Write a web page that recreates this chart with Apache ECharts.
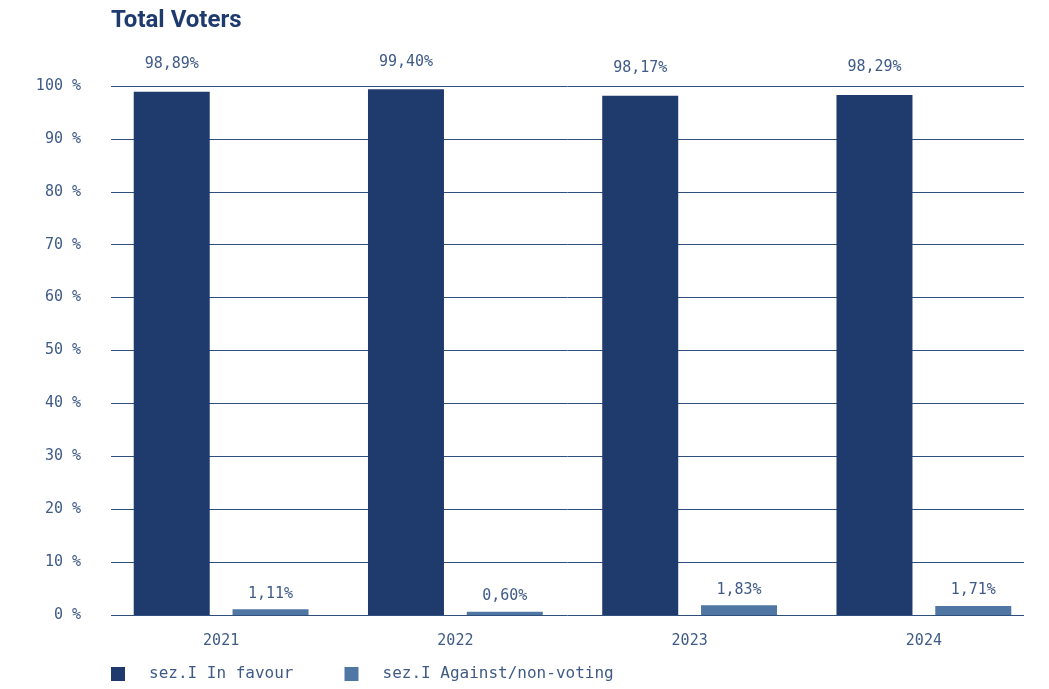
<!DOCTYPE html>
<html>
<head>
<meta charset="utf-8">
<script src="https://cdn.jsdelivr.net/npm/echarts@6/dist/echarts.min.js"></script>
<style>
  html, body { margin: 0; padding: 0; background: #ffffff; }
  #chart { width: 1049px; height: 689px; }
</style>
</head>
<body>
<div id="chart"></div>
<script>
// Vote share per year, in percent
const years = ['2021', '2022', '2023', '2024'];
const inFavour = [98.89, 99.40, 98.17, 98.29];
const againstNonVoting = [1.11, 0.60, 1.83, 1.71];
const seriesNames = ['sez.I In favour', 'sez.I Against/non-voting'];

const MONO = '"DejaVu Sans Mono", "Liberation Mono", monospace';
const DARK = '#1f3b6e';
const LIGHT = '#5077a4';
const TEXT = '#3f5b86';

const fmt = v => v.toFixed(2).replace('.', ',') + '%';

const chart = echarts.init(document.getElementById('chart'), null, { renderer: 'canvas' });

chart.setOption({
  animation: false,
  backgroundColor: '#ffffff',
  title: {
    text: 'Total Voters',
    left: 106,
    top: 4,
    textStyle: {
      fontFamily: 'Roboto, sans-serif',
      fontWeight: 'bold',
      fontSize: 24,
      color: DARK
    }
  },
  legend: {
    left: 106,
    top: 661,
    icon: 'rect',
    itemWidth: 14,
    itemHeight: 14,
    itemGap: 51,
    textStyle: { fontFamily: MONO, fontSize: 16, color: TEXT, padding: [0, 0, 0, 19] },
    data: seriesNames
  },
  grid: [
    // grid holding the value axis gridlines and tick labels
    { left: 111, right: 25, top: 86, bottom: 74 },
    // grid holding the bars and category labels
    { left: 104, right: 8, top: 86, bottom: 74 }
  ],
  xAxis: [
    { type: 'category', gridIndex: 0, data: years, show: false },
    {
      type: 'category',
      gridIndex: 1,
      data: years,
      axisLine: { show: false },
      axisTick: { show: false },
      axisLabel: { fontFamily: MONO, fontSize: 15, color: TEXT, margin: 19 }
    }
  ],
  yAxis: [
    {
      type: 'value',
      gridIndex: 0,
      min: 0,
      max: 100,
      interval: 10,
      axisLine: { show: false },
      axisTick: { show: false },
      splitLine: { lineStyle: { color: '#2f4f7f', width: 1 } },
      axisLabel: {
        fontFamily: MONO,
        fontSize: 15,
        color: TEXT,
        margin: 30,
        formatter: v => v + ' %'
      }
    },
    { type: 'value', gridIndex: 1, min: 0, max: 100, show: false }
  ],
  series: [
    {
      name: seriesNames[0],
      type: 'bar',
      xAxisIndex: 1,
      yAxisIndex: 1,
      data: inFavour,
      barWidth: 76,
      barGap: '30%',
      itemStyle: { color: DARK },
      label: {
        show: true,
        position: 'top',
        distance: 20,
        fontFamily: MONO,
        fontSize: 15,
        color: TEXT,
        formatter: p => fmt(p.value)
      }
    },
    {
      name: seriesNames[1],
      type: 'bar',
      xAxisIndex: 1,
      yAxisIndex: 1,
      data: againstNonVoting,
      barWidth: 76,
      barGap: '30%',
      itemStyle: { color: LIGHT },
      label: {
        show: true,
        position: 'top',
        distance: 8,
        fontFamily: MONO,
        fontSize: 15,
        color: TEXT,
        formatter: p => fmt(p.value)
      }
    }
  ]
});
</script>
</body>
</html>
